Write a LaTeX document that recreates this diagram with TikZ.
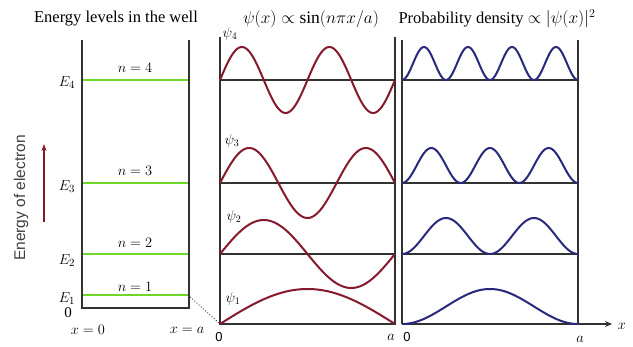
\documentclass[tikz,border=0pt]{standalone}
\usepackage{fontspec}
\setmainfont{Liberation Serif}
\newfontfamily\sansf{Liberation Sans}
\usetikzlibrary{arrows.meta}
\definecolor{lvlgreen}{RGB}{110,215,40}
\definecolor{wred}{RGB}{135,25,45}
\definecolor{pblue}{RGB}{40,40,125}
\definecolor{wallgray}{RGB}{50,50,50}
\begin{document}
\begin{tikzpicture}[x=1pt,y=-1pt,
  wall/.style={draw=wallgray,line width=1.6pt},
  base/.style={draw=wallgray,line width=1.2pt},
  level/.style={draw=lvlgreen,line width=2.6pt},
  wave/.style={draw=wred,line width=2pt,domain=0:1,samples=120,smooth},
  dens/.style={draw=pblue,line width=2pt,domain=0:1,samples=120,smooth},
  lbl/.style={inner sep=0pt,font=\fontsize{15}{16}\selectfont},
  psil/.style={inner sep=0pt,font=\fontsize{14}{15}\selectfont},
  axl/.style={inner sep=0pt,font=\sansf\fontsize{13}{14}\selectfont},
  title/.style={inner sep=0pt,font=\fontsize{16.5}{18}\selectfont}]
\useasboundingbox (0,0) rectangle (633,347);
\fill[white] (0,0) rectangle (633,347);

% titles
\node[title] (t1) at (116,19) {Energy levels in the well};
\node[title,font=\fontsize{17.5}{19}\selectfont] (t2) at (311,19) {$\psi(x)\propto\sin(n\pi x/a)$};
\node[title,font=\fontsize{16.5}{18}\selectfont] (t3) at (497,19) {Probability density $\propto|\psi(x)|^2$};

% energy axis label and arrow
\node[inner sep=0pt,rotate=90,text=black!75,font=\sansf\fontsize{15.5}{16}\selectfont] (ylab) at (21,198) {Energy of electron};
\coordinate (ea0) at (44,222);
\coordinate (ea1) at (44,144);
\draw[draw=wred,line width=1.3pt,-{Stealth[length=7pt,width=5pt]}] (ea0) -- (ea1);

% left well
\coordinate (wTL) at (82,40); \coordinate (wBL) at (82,308);
\coordinate (wTR) at (189,40); \coordinate (wBR) at (189,308);
\draw[wall] (wTL) -- (wBL) -- (wBR) -- (wTR);
\foreach \n/\y/\ly in {4/80/68,3/183/171,2/254/243,1/295/287}{
  \coordinate (L\n a) at (83,\y); \coordinate (L\n b) at (188,\y);
  \draw[level] (L\n a) -- (L\n b);
  \node[lbl] (nl\n) at (135,\ly) {$n=\n$};
}
\node[lbl] (E4) at (67,83) {$E_4$};
\node[lbl] (E3) at (67,187) {$E_3$};
\node[lbl] (E2) at (67,261) {$E_2$};
\node[lbl] (E1) at (67,299) {$E_1$};
\node[lbl] (z0) at (68,313) {0};
\node[lbl] (x0) at (88,330) {$x=0$};
\node[lbl] (xa) at (187,330) {$x=a$};

% middle panel
\coordinate (mTL) at (220,37); \coordinate (mBL) at (220,324);
\coordinate (mTR) at (395,37); \coordinate (mBR) at (395,324);
\draw[wall] (mTL) -- (mBL) -- (mBR) -- (mTR);
\foreach \y in {80,183,254}{\draw[base] (220,\y) -- (395,\y);}
\draw[wave] plot ({220+175*\x},{80-33*sin(4*180*\x)});
\draw[wave] plot ({220+175*\x},{183-35*sin(3*180*\x)});
\draw[wave] plot ({220+175*\x},{254-34*sin(2*180*\x)});
\draw[wave] plot ({220+175*\x},{324-35*sin(180*\x)});
\node[psil] (p4) at (230,34) {$\psi_4$};
\node[psil] (p3) at (232,141) {$\psi_3$};
\node[psil] (p2) at (234,217) {$\psi_2$};
\node[psil] (p1) at (233,299) {$\psi_1$};
\node[axl] (m0) at (219,337) {0};
\node[lbl] (ma) at (391,337) {$a$};
\draw[wallgray,line width=0.9pt,dotted] (L1b) -- (mBL);

% right panel
\coordinate (rTL) at (402,40); \coordinate (rBL) at (402,324);
\coordinate (rTR) at (578,40); \coordinate (rBR) at (578,324);
\coordinate (xend) at (612,324);
\draw[wall] (rTL) -- (rBL);
\draw[wall] (rTR) -- (rBR);
\draw[wall,-{Stealth[length=7pt,width=6pt]}] (rBL) -- (xend);
\foreach \y in {80,183,254}{\draw[base] (402,\y) -- (578,\y);}
\draw[dens] plot ({402+176*\x},{80-33*(sin(4*180*\x))^2});
\draw[dens] plot ({402+176*\x},{183-35*(sin(3*180*\x))^2});
\draw[dens] plot ({402+176*\x},{254-36*(sin(2*180*\x))^2});
\draw[dens] plot ({402+176*\x},{324-35*(sin(180*\x))^2});
\node[axl] (r0) at (407,337) {0};
\node[lbl] (ra) at (580,339) {$a$};
\node[lbl] (xl) at (622,326) {$x$};
\end{tikzpicture}
\end{document}
